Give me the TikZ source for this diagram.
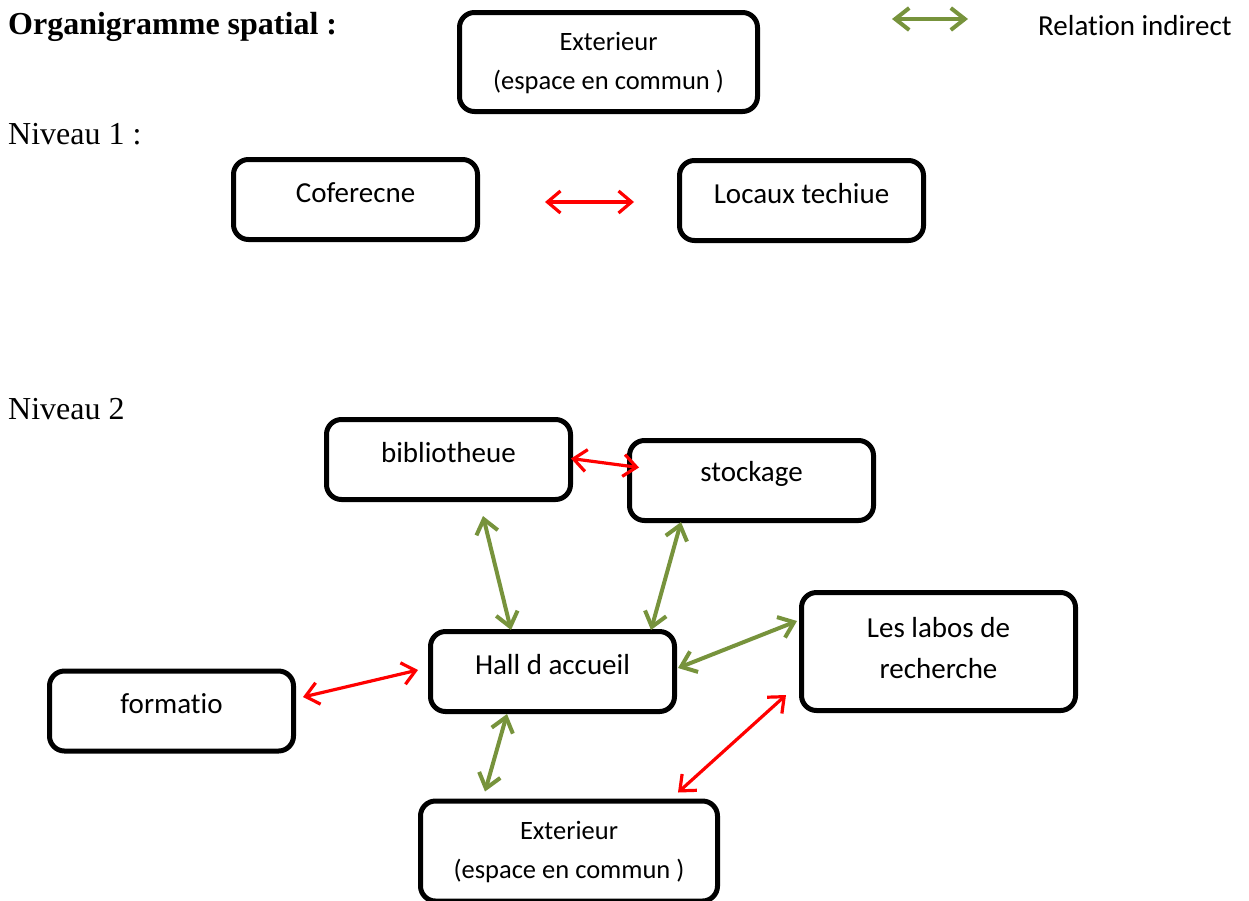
\documentclass[tikz,border=0pt]{standalone}
\usepackage{fontspec}
\setmainfont{Liberation Serif}
\newfontfamily\calfont[Ligatures=NoCommon]{Carlito}
\usetikzlibrary{arrows.meta}
\definecolor{ogreen}{RGB}{119,147,60}
\newcommand\liftup[1]{\raisebox{7pt}[\height][\depth]{#1}}
\begin{document}
\begin{tikzpicture}[x=1pt,y=-1pt,
  box/.style={draw, line width=5pt, rounded corners=15pt, align=center, inner sep=0pt,
    font=\calfont\fontsize{29}{41}\selectfont, minimum width=244pt, minimum height=80pt},
  smallbox/.style={box, font=\calfont\fontsize{26.5}{38.5}\selectfont, text depth=2pt},
  serif/.style={font=\fontsize{32}{38}\selectfont, anchor=base west, inner sep=0pt},
  redarr/.style={draw=red, line width=3.2pt, {Straight Barb[length=13pt,width=22pt]}-{Straight Barb[length=13pt,width=22pt]}},
  grnarr/.style={draw=ogreen, line width=4pt, {Straight Barb[length=14pt,width=22pt]}-{Straight Barb[length=14pt,width=22pt]}}
]
\useasboundingbox (0,0) rectangle (1249,900);

% titles
\node[serif, font=\bfseries\fontsize{32}{38}\selectfont] (title) at (8,34) {Organigramme spatial :};
\node[serif] (n1) at (8,144) {Niveau 1 :};
\node[serif] (n2) at (8,419) {Niveau 2};

% legend
\coordinate (lg1) at (892,19);
\coordinate (lg2) at (968,19);
\draw[grnarr] (lg1) -- (lg2);
\node[anchor=base west, inner sep=0pt, font=\calfont\fontsize{29}{35}\selectfont] (legend) at (1038,35) {Relation indirect};

% niveau 1
\node[smallbox, minimum width=298pt, minimum height=99pt] (ext1) at (608.5,62) {Exterieur\\(espace en commun )};
\node[box] (cof) at (355.5,199.5) {\liftup{Coferecne}};
\node[box] (loc) at (801.5,200.5) {\liftup{Locaux techiue}};

% niveau 2
\node[box] (bib) at (448.5,459.5) {\liftup{bibliotheue}};
\node[box] (stock) at (751.5,480.5) {\liftup{stockage}};
\node[box] (hall) at (552.5,671.5) {\liftup{Hall d accueil}};
\node[box] (form) at (171.5,711) {\liftup{formatio}};
\node[box, minimum width=274pt, minimum height=118pt, text depth=7pt] (labos) at (938.5,651.5) {Les labos de\\recherche};
\node[smallbox, minimum width=297pt, minimum height=100pt] (ext2) at (569,851) {Exterieur\\(espace en commun )};

% connectors
\draw[redarr] ([shift={(65,2.5)}]cof.east) -- ([shift={(-43,1.5)}]loc.west);
\draw[redarr] ([shift={(-2,-1)}]bib.east) -- ([shift={(12,-13)}]stock.west);
\draw[grnarr] ([shift={(34.5,14)}]bib.south) -- ([shift={(-41.5,1)}]hall.north);
\draw[grnarr] ([shift={(-70.5,-1)}]stock.south) -- ([shift={(98.5,1)}]hall.north);
\draw[grnarr] ([shift={(1,-3.5)}]hall.east) -- ([shift={(-2,-30.5)}]labos.west);
\draw[redarr] ([shift={(7,-14)}]form.east) -- ([shift={(-10,-1.5)}]hall.west);
\draw[grnarr] ([shift={(-45.5,0)}]hall.south) -- ([shift={(-84,-7)}]ext2.north);
\draw[redarr] ([shift={(-152.5,-18)}]labos.south) -- ([shift={(109,-6)}]ext2.north);
\end{tikzpicture}
\end{document}
